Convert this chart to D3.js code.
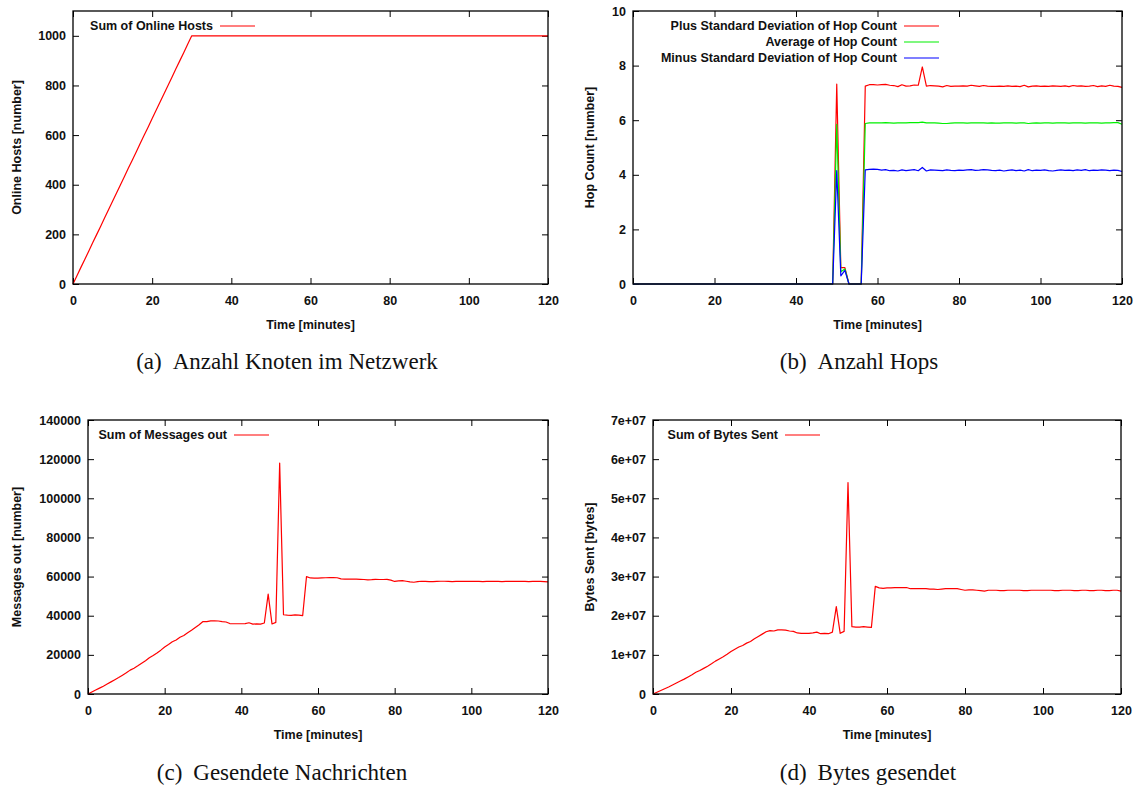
<!DOCTYPE html>
<html>
<head>
<meta charset="utf-8">
<script src="https://cdn.jsdelivr.net/npm/d3@7"></script>
<style>
  body { margin: 0; background: #fff; }
  svg { display: block; }
</style>
</head>
<body>
<script>
// time axis, one sample per minute
const minutes = [
  0,1,2,3,4,5,6,7,8,9,10,11,12,13,14,15,16,17,18,19,
  20,21,22,23,24,25,26,27,28,29,30,31,32,33,34,35,36,37,38,39,
  40,41,42,43,44,45,46,47,48,49,50,51,52,53,54,55,56,57,58,59,
  60,61,62,63,64,65,66,67,68,69,70,71,72,73,74,75,76,77,78,79,
  80,81,82,83,84,85,86,87,88,89,90,91,92,93,94,95,96,97,98,99,
  100,101,102,103,104,105,106,107,108,109,110,111,112,113,114,115,116,117,118,119,
  120]

const onlineHosts = [
  0,33,67,100,133,167,200,233,267,300,333,367,400,433,467,500,533,567,600,633,
  667,700,733,767,800,833,867,900,933,967,1000,1000,1000,1000,1000,1000,1000,1000,1000,1000,
  1000,1000,1000,1000,1000,1000,1000,1000,1000,1000,1000,1000,1000,1000,1000,1000,1000,1000,1000,1000,
  1000,1000,1000,1000,1000,1000,1000,1000,1000,1000,1000,1000,1000,1000,1000,1000,1000,1000,1000,1000,
  1000,1000,1000,1000,1000,1000,1000,1000,1000,1000,1000,1000,1000,1000,1000,1000,1000,1000,1000,1000,
  1000,1000,1000,1000,1000,1000,1000,1000,1000,1000,1000,1000,1000,1000,1000,1000,1000,1000,1000,1000,
  1000]

const hopPlus = [
  0,0,0,0,0,0,0,0,0,0,0,0,0,0,0,0,0,0,0,0,
  0,0,0,0,0,0,0,0,0,0,0,0,0,0,0,0,0,0,0,0,
  0,0,0,0,0,0,0,0,0,0,7.32,0.6,0.6,0,0,0,0,7.25,7.30,7.30,
  7.29,7.30,7.31,7.28,7.27,7.23,7.30,7.25,7.26,7.29,7.28,7.95,7.25,7.27,7.26,7.25,7.22,7.27,7.24,7.25,
  7.25,7.26,7.25,7.28,7.26,7.24,7.27,7.25,7.24,7.24,7.25,7.24,7.26,7.24,7.25,7.23,7.28,7.22,7.25,7.26,
  7.24,7.25,7.24,7.26,7.25,7.24,7.26,7.23,7.27,7.25,7.26,7.24,7.25,7.27,7.23,7.26,7.24,7.28,7.25,7.24,
  7.20]

const hopAvg = [
  0,0,0,0,0,0,0,0,0,0,0,0,0,0,0,0,0,0,0,0,
  0,0,0,0,0,0,0,0,0,0,0,0,0,0,0,0,0,0,0,0,
  0,0,0,0,0,0,0,0,0,0,5.85,0.45,0.55,0,0,0,0,5.88,5.90,5.90,
  5.90,5.90,5.91,5.90,5.89,5.90,5.90,5.90,5.91,5.91,5.91,5.93,5.90,5.90,5.90,5.89,5.88,5.88,5.89,5.90,
  5.90,5.90,5.89,5.90,5.90,5.90,5.90,5.89,5.90,5.89,5.89,5.90,5.90,5.90,5.89,5.90,5.90,5.88,5.89,5.90,
  5.89,5.90,5.90,5.89,5.90,5.90,5.90,5.89,5.90,5.90,5.90,5.89,5.90,5.90,5.90,5.89,5.90,5.90,5.91,5.91,
  5.85]

const hopMinus = [
  0,0,0,0,0,0,0,0,0,0,0,0,0,0,0,0,0,0,0,0,
  0,0,0,0,0,0,0,0,0,0,0,0,0,0,0,0,0,0,0,0,
  0,0,0,0,0,0,0,0,0,0,4.15,0.3,0.5,0,0,0,0,4.18,4.20,4.21,
  4.20,4.17,4.19,4.15,4.16,4.14,4.18,4.15,4.17,4.19,4.15,4.27,4.14,4.18,4.17,4.16,4.15,4.18,4.16,4.15,
  4.17,4.16,4.18,4.19,4.16,4.17,4.19,4.18,4.16,4.15,4.17,4.14,4.16,4.18,4.15,4.17,4.14,4.19,4.15,4.17,
  4.16,4.18,4.15,4.14,4.16,4.18,4.16,4.17,4.15,4.18,4.16,4.19,4.15,4.17,4.16,4.18,4.17,4.15,4.17,4.16,
  4.12]

const messagesOut = [
  0,1000,2000,3000,4000,5100,6200,7300,8400,9600,
  10800,12200,13200,14400,15700,17000,18500,19700,21000,22400,
  24000,25300,26700,27600,29000,29900,31300,32600,34000,35400,
  37000,37000,37400,37400,37300,37000,36800,36000,35900,35900,
  35900,36000,36400,35700,35800,35700,36300,51000,35800,36600,
  118000,40500,40300,40200,40400,40300,40000,60000,59300,59200,
  59200,59300,59400,59500,59500,59400,58800,58700,58700,58700,
  58700,58600,58500,58300,58400,58600,58500,58500,58600,58200,
  57500,57800,57900,57600,57300,57100,57400,57600,57500,57400,
  57400,57500,57600,57600,57500,57400,57500,57600,57500,57500,
  57500,57600,57500,57400,57500,57600,57500,57500,57400,57500,
  57600,57500,57500,57600,57500,57400,57500,57600,57500,57400,
  57300]

const bytesSent = [
  0,0.45e6,0.9e6,1.35e6,1.8e6,2.3e6,2.8e6,3.3e6,3.8e6,4.35e6,
  4.9e6,5.55e6,6.0e6,6.55e6,7.1e6,7.7e6,8.4e6,8.95e6,9.5e6,10.15e6,
  10.85e6,11.45e6,12.0e6,12.4e6,13.0e6,13.4e6,14.1e6,14.7e6,15.3e6,15.9e6,
  16.2e6,16.1e6,16.4e6,16.4e6,16.3e6,16.1e6,16.0e6,15.6e6,15.5e6,15.5e6,
  15.5e6,15.6e6,15.8e6,15.4e6,15.5e6,15.4e6,15.8e6,22.3e6,15.5e6,16.0e6,
  54.0e6,17.2e6,17.1e6,17.1e6,17.2e6,17.1e6,17.0e6,27.5e6,27.1e6,27.0e6,
  27.1e6,27.1e6,27.2e6,27.2e6,27.2e6,27.2e6,26.9e6,26.9e6,26.9e6,26.9e6,
  26.9e6,26.8e6,26.8e6,26.7e6,26.8e6,26.9e6,26.9e6,26.9e6,26.9e6,26.7e6,
  26.5e6,26.6e6,26.6e6,26.5e6,26.4e6,26.3e6,26.5e6,26.5e6,26.5e6,26.4e6,
  26.4e6,26.5e6,26.5e6,26.5e6,26.5e6,26.4e6,26.4e6,26.5e6,26.5e6,26.5e6,
  26.5e6,26.5e6,26.5e6,26.4e6,26.4e6,26.5e6,26.5e6,26.5e6,26.4e6,26.4e6,
  26.5e6,26.5e6,26.4e6,26.4e6,26.5e6,26.5e6,26.4e6,26.4e6,26.5e6,26.5e6,
  26.3e6]

const xTicks = [0, 20, 40, 60, 80, 100, 120]
const hostTicks = [0, 200, 400, 600, 800, 1000]
const hopTicks = [0, 2, 4, 6, 8, 10]
const msgTicks = [0, 20000, 40000, 60000, 80000, 100000, 120000, 140000]
const byteTicks = [0, 1e7, 2e7, 3e7, 4e7, 5e7, 6e7, 7e7]

const captions = [
  ["(a)", "Anzahl Knoten im Netzwerk"],
  ["(b)", "Anzahl Hops"],
  ["(c)", "Gesendete Nachrichten"],
  ["(d)", "Bytes gesendet"]
]

const W = 1137, H = 785
const tickFont = "'Liberation Sans', Arial, sans-serif"
const svg = d3.select("body").append("svg")
  .attr("width", W).attr("height", H)

const panels = [
  {
    box: [73, 548, 11, 284], yMax: 1100, yTicks: hostTicks,
    yLabel: "Online Hosts [number]", yLabelX: 17,
    keyX: 213, keyY: 26,
    series: [{name: "Sum of Online Hosts", values: onlineHosts, color: "#ff0000"}]
  },
  {
    box: [633, 1122, 11, 284], yMax: 10, yTicks: hopTicks,
    yLabel: "Hop Count [number]", yLabelX: 590,
    keyX: 897, keyY: 26,
    series: [
      {name: "Plus Standard Deviation of Hop Count", values: hopPlus, color: "#ff0000"},
      {name: "Average of Hop Count", values: hopAvg, color: "#00f000"},
      {name: "Minus Standard Deviation of Hop Count", values: hopMinus, color: "#0000ff"}
    ]
  },
  {
    box: [88, 548, 420, 694], yMax: 140000, yTicks: msgTicks,
    yLabel: "Messages out [number]", yLabelX: 17,
    keyX: 227, keyY: 435,
    series: [{name: "Sum of Messages out", values: messagesOut, color: "#ff0000"}]
  },
  {
    box: [653, 1121, 420, 694], yMax: 7e7, yTicks: byteTicks,
    yLabel: "Bytes Sent [bytes]", yLabelX: 590,
    keyX: 778, keyY: 435,
    fmt: v => v === 0 ? "0" : `${Math.round(v / 1e7)}e+07`,
    series: [{name: "Sum of Bytes Sent", values: bytesSent, color: "#ff0000"}]
  }
]

panels.forEach(drawPanel)

function drawPanel(p) {
  const [x0, x1, y0, y1] = p.box
  const x = d3.scaleLinear().domain([0, 120]).range([x0, x1])
  const y = d3.scaleLinear().domain([0, p.yMax]).range([y1, y0])
  const g = svg.append("g")
  const tick = 6

  // gnuplot style: ticks point inward on all four sides
  const axes = [
    [d3.axisBottom(x).tickValues(xTicks).tickSize(-tick).tickPadding(12), `translate(0,${y1})`],
    [d3.axisTop(x).tickValues(xTicks).tickSize(-tick).tickFormat(""), `translate(0,${y0})`],
    [d3.axisLeft(y).tickValues(p.yTicks).tickSize(-tick).tickPadding(7)
      .tickFormat(p.fmt || (d => String(d))), `translate(${x0},0)`],
    [d3.axisRight(y).tickValues(p.yTicks).tickSize(-tick).tickFormat(""), `translate(${x1},0)`]
  ]
  axes.forEach(([ax, tr]) => {
    const a = g.append("g").attr("transform", tr).call(ax)
    a.select(".domain").remove()
    a.selectAll("line").attr("stroke", "#000").attr("stroke-width", 1)
    a.selectAll("text")
      .attr("font-family", tickFont)
      .attr("font-weight", "bold")
      .attr("font-size", 12.5)
      .attr("fill", "#111")
  })

  const line = d3.line().x((d, i) => x(minutes[i])).y(d => y(d))
  p.series.forEach((s, k) => {
    g.append("path")
      .datum(s.values)
      .attr("fill", "none")
      .attr("stroke", s.color)
      .attr("stroke-width", 1.2)
      .attr("stroke-linejoin", "round")
      .attr("d", line)

    const ky = p.keyY + k * 16
    g.append("text")
      .attr("x", p.keyX).attr("y", ky)
      .attr("dy", "0.35em")
      .attr("text-anchor", "end")
      .attr("font-family", tickFont)
      .attr("font-weight", "bold")
      .attr("font-size", 12.5)
      .attr("fill", "#111")
      .text(s.name)
    g.append("line")
      .attr("x1", p.keyX + 7).attr("x2", p.keyX + 42)
      .attr("y1", ky).attr("y2", ky)
      .attr("stroke", s.color)
      .attr("stroke-width", 1.2)
  })

  g.append("rect")
    .attr("x", x0).attr("y", y0)
    .attr("width", x1 - x0).attr("height", y1 - y0)
    .attr("fill", "none")
    .attr("stroke", "#000")
    .attr("stroke-width", 1.3)

  g.append("text")
    .attr("x", (x0 + x1) / 2).attr("y", y1 + 45)
    .attr("text-anchor", "middle")
    .attr("font-family", tickFont)
    .attr("font-weight", "bold")
    .attr("font-size", 12.5)
    .attr("fill", "#111")
    .text("Time [minutes]")

  g.append("text")
    .attr("transform", `translate(${p.yLabelX},${(y0 + y1) / 2}) rotate(-90)`)
    .attr("dy", "0.35em")
    .attr("text-anchor", "middle")
    .attr("font-family", tickFont)
    .attr("font-weight", "bold")
    .attr("font-size", 12.5)
    .attr("fill", "#111")
    .text(p.yLabel)
}

// sub-figure captions
const capPos = [[287, 369], [859, 369], [282, 780], [868, 780]]
captions.forEach(([tag, txt], i) => {
  const t = svg.append("text")
    .attr("x", capPos[i][0]).attr("y", capPos[i][1])
    .attr("text-anchor", "middle")
    .attr("font-family", "'Liberation Serif', 'Times New Roman', serif")
    .attr("font-size", 23)
    .attr("fill", "#111")
  t.append("tspan").text(tag)
  t.append("tspan").attr("dx", 11).text(txt)
})
</script>
</body>
</html>
